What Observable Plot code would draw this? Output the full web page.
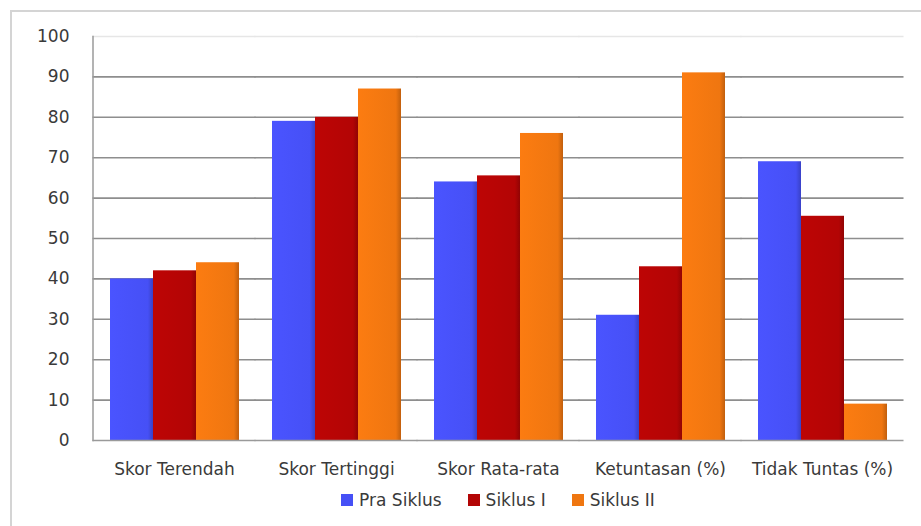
<!DOCTYPE html>
<html>
<head>
<meta charset="utf-8">
<script src="https://cdn.jsdelivr.net/npm/d3@7"></script>
<script src="https://cdn.jsdelivr.net/npm/@observablehq/plot@0.6"></script>
<style>
  html, body { margin: 0; padding: 0; background: #fff; }
  #wrap { position: relative; width: 921px; height: 526px; overflow: hidden; font-family: "DejaVu Sans", sans-serif; }
  #border { position: absolute; left: 10px; top: 10px; right: -5px; bottom: -5px; border-top: 2px solid #d4d4d4; border-left: 2px solid #d4d4d4; }
  #chart { position: absolute; left: 0; top: 0; }
  #legend { position: absolute; left: 91px; right: 16px; top: 490px; display: flex; justify-content: center; gap: 26px; font-size: 17px; color: #3a3a3a; }
  #legend span.item { display: flex; align-items: center; gap: 6px; }
  #legend span.sw { width: 12px; height: 12px; display: inline-block; }
</style>
</head>
<body>
<div id="wrap">
  <div id="border"></div>
  <div id="chart"></div>
  <div id="legend"></div>
</div>
<script>
const categories = ["Skor Terendah", "Skor Tertinggi", "Skor Rata-rata", "Ketuntasan (%)", "Tidak Tuntas (%)"];
const series = ["Pra Siklus", "Siklus I", "Siklus II"];
const praSiklus = [40, 79, 64, 31, 69];
const siklusI = [42, 80, 65.5, 43, 55.5];
const siklusII = [44, 87, 76, 91, 9];
const yTicks = [0, 10, 20, 30, 40, 50, 60, 70, 80, 90, 100];
const colors = ["#4650f6", "#b30505", "#ef7610"];
const gradIds = ["gBlue", "gRed", "gOrange"];

const values = [praSiklus, siklusI, siklusII];
const data = [];
categories.forEach((c, i) => series.forEach((s, j) => data.push({cat: c, series: s, value: values[j][i]})));

const barMarks = series.map((s, j) => Plot.barY(data.filter(d => d.series === s), {
  fx: "cat", x: "series", y: "value", fill: `url(#${gradIds[j]})`
}));

const ext = -16.5;
const chart = Plot.plot({
  width: 921,
  height: 490,
  marginLeft: 91,
  marginRight: 16,
  marginTop: 36,
  marginBottom: 50,
  style: {fontFamily: "DejaVu Sans, sans-serif", fontSize: "17px", color: "#3a3a3a", background: "transparent"},
  fx: {domain: categories, paddingInner: 0.2, paddingOuter: 0.1, label: null},
  x: {domain: series, padding: 0, axis: null},
  y: {domain: [0, 100], label: null},
  marks: [
    Plot.ruleY(yTicks.filter(t => t > 0 && t < 100), {stroke: "#8e8e8e", strokeWidth: 1.6, insetLeft: ext, insetRight: ext}),
    Plot.ruleY([100], {stroke: "#e6e6e6", strokeWidth: 1.5, insetLeft: ext, insetRight: ext}),
    ...barMarks,
    Plot.ruleY([0], {stroke: "#9a9a9a", strokeWidth: 1.5, insetLeft: ext, insetRight: ext}),
    Plot.frame({anchor: "left", facetAnchor: "left", stroke: "#9a9a9a", strokeWidth: 1.5, insetLeft: ext}),
    Plot.axisY({ticks: yTicks, tickSize: 0, tickPadding: 40, fontSize: 17}),
    Plot.axisFx({anchor: "bottom", tickSize: 0, tickPadding: 22, label: null, fontSize: 17})
  ]
});

const svg = d3.select(chart);
const defs = svg.insert("defs", ":first-child");
colors.forEach((c, j) => {
  const base = d3.color(c);
  const g = defs.append("linearGradient").attr("id", gradIds[j]).attr("x1", 0).attr("x2", 1).attr("y1", 0).attr("y2", 0);
  g.append("stop").attr("offset", "0%").attr("stop-color", base.brighter(0.15).formatHex());
  g.append("stop").attr("offset", "88%").attr("stop-color", base.formatHex());
  g.append("stop").attr("offset", "100%").attr("stop-color", base.darker(0.6).formatHex());
});
document.getElementById("chart").appendChild(chart);

const legend = document.getElementById("legend");
series.forEach((s, j) => {
  const item = document.createElement("span");
  item.className = "item";
  const sw = document.createElement("span");
  sw.className = "sw";
  sw.style.background = colors[j];
  item.appendChild(sw);
  item.appendChild(document.createTextNode(s));
  legend.appendChild(item);
});
</script>
</body>
</html>
